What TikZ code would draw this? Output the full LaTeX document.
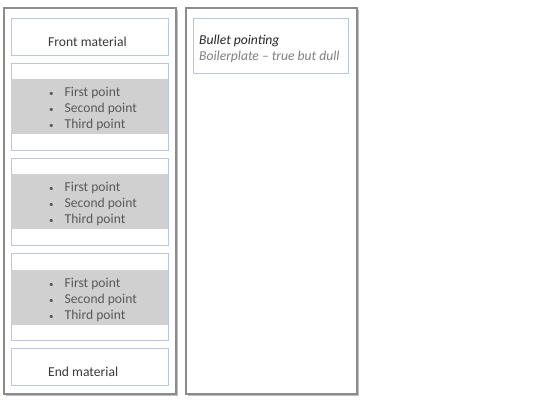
\documentclass[tikz,border=0pt]{standalone}
\usepackage{fontspec}
\setmainfont{Carlito}
\usetikzlibrary{shadows}
\definecolor{boxline}{HTML}{B8C6DE}
\definecolor{grayfill}{HTML}{D0D0D0}
\definecolor{txt}{HTML}{595959}
\definecolor{darktxt}{HTML}{3A3A3A}
\definecolor{panelline}{HTML}{8C8C8C}
\begin{document}
\begin{tikzpicture}[x=1pt,y=-1pt,
  panel/.style={draw=panelline,line width=1.6pt,fill=white,
    drop shadow={shadow xshift=1.5pt,shadow yshift=-1.5pt,fill=black,opacity=0.25}},
  inbox/.style={draw=boxline,line width=0.7pt,fill=white},
  graybar/.style={fill=grayfill},
  lbl/.style={anchor=west,inner sep=0pt,font=\fontsize{13.6}{15}\selectfont,text=darktxt},
  blt/.style={anchor=west,inner sep=0pt,font=\fontsize{13.6}{15}\selectfont,text=txt}]
\useasboundingbox (0,0) rectangle (540,405);
% panels
\path[panel] (4,8) rectangle (176,394);
\path[panel] (186,8) rectangle (357,394);
% front material
\draw[inbox] (11,18) rectangle (168,55);
\node[lbl] (front) at (48,41.5) {Front material};
% bullet boxes
\foreach \t/\g/\n in {63/79/a,158/174/b,253/270/c}{
  \draw[inbox] (11,\t) rectangle (168,\t+87);
  \fill[grayfill] (11.4,\g) rectangle (167.6,\g+55);
  \node[blt] (\n1) at (49,\g+13.5) {{\small•}\hspace{11pt}First point};
  \node[blt] (\n2) at (49,\g+29.5) {{\small•}\hspace{11pt}Second point};
  \node[blt] (\n3) at (49,\g+45.5) {{\small•}\hspace{11pt}Third point};
}
% end material
\draw[inbox] (11,348) rectangle (168,385);
\node[lbl] (endm) at (48,372) {End material};
% right box
\draw[inbox] (193,18) rectangle (348,73);
\node[lbl,font=\fontsize{13.6}{15}\selectfont\itshape,text=black!85] (bp) at (199,41) {Bullet pointing};
\node[lbl,font=\fontsize{13.6}{15}\selectfont\itshape,text=black!50] (bd) at (199,57) {Boilerplate – true but dull};
\end{tikzpicture}
\end{document}
